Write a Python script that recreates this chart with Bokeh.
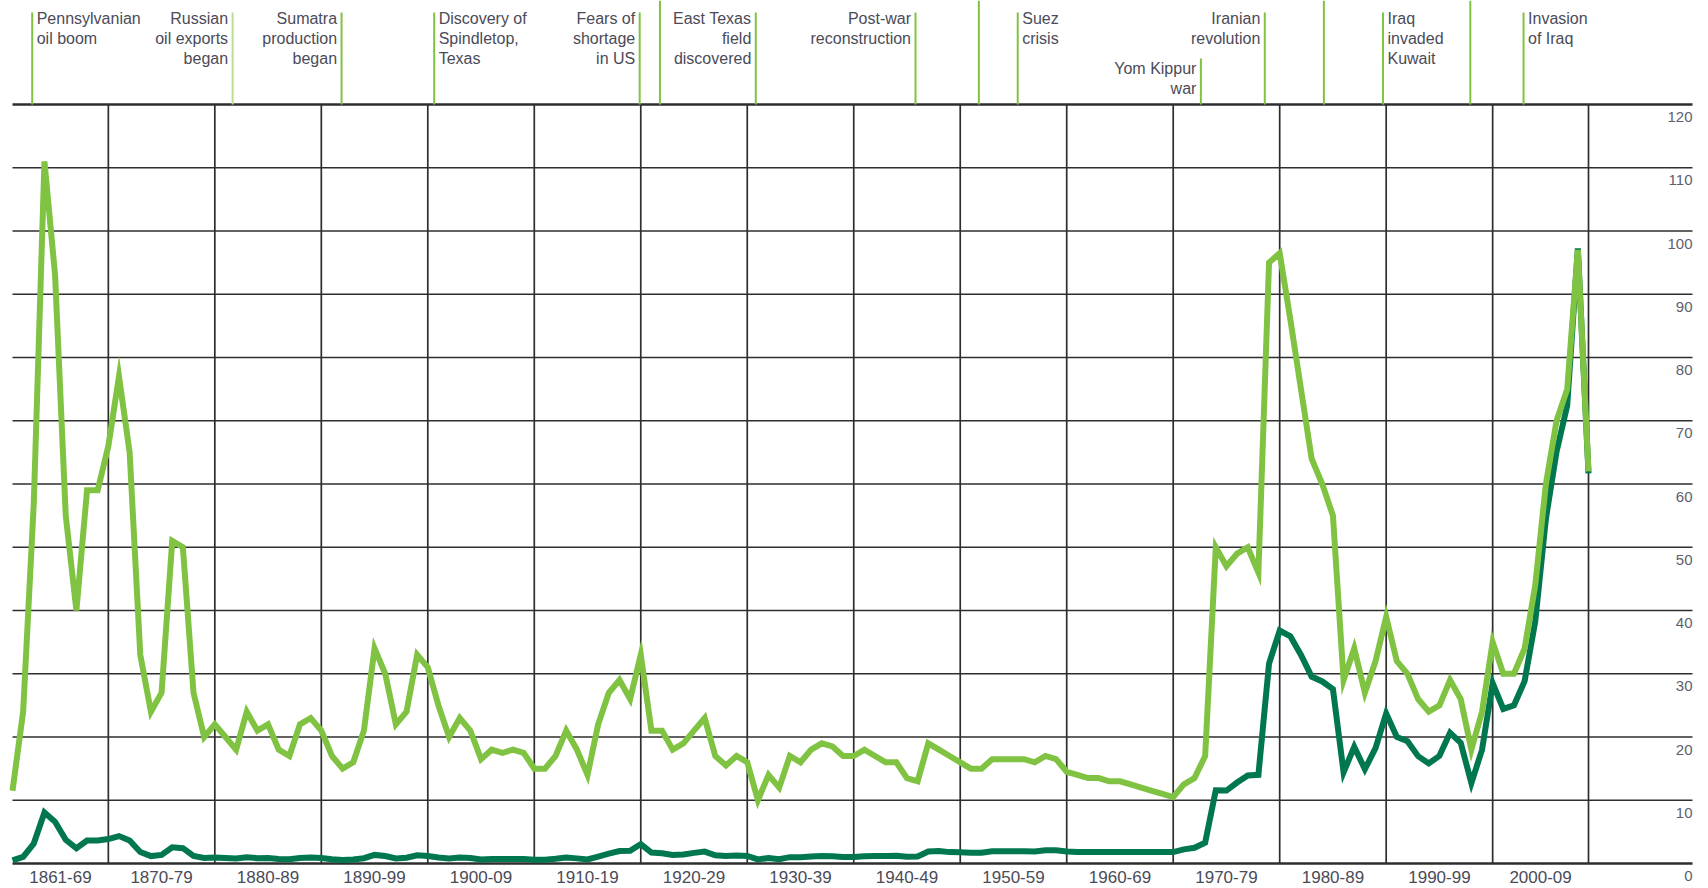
from bokeh.plotting import figure
from bokeh.models import Range1d
from bokeh.core.properties import value
from bokeh.embed import file_html
from bokeh.resources import INLINE

# ---------------- data ----------------
years = list(range(1861, 2010))

money_of_the_day = [
    0.49, 1.05, 3.15, 8.06, 6.59, 3.74, 2.41, 3.63, 3.64,
    3.86, 4.34, 3.64, 1.83, 1.17, 1.35, 2.56, 2.42, 1.19, 0.86,
    0.95, 0.86, 0.78, 1.00, 0.84, 0.88, 0.71, 0.67, 0.88, 0.94,
    0.87, 0.67, 0.56, 0.64, 0.84, 1.36, 1.18, 0.79, 0.91, 1.29,
    1.19, 0.96, 0.80, 0.94, 0.86, 0.62, 0.73, 0.72, 0.72, 0.70,
    0.61, 0.61, 0.74, 0.95, 0.81, 0.64, 1.10, 1.56, 1.98, 2.01,
    3.07, 1.73, 1.61, 1.34, 1.43, 1.68, 1.88, 1.30, 1.17, 1.27,
    1.19, 0.65, 0.87, 0.67, 1.00, 0.97, 1.09, 1.18, 1.13, 1.02,
    1.02, 1.14, 1.19, 1.20, 1.21, 1.05, 1.12, 1.90, 1.99, 1.80,
    1.78, 1.71, 1.71, 1.93, 1.93, 1.93, 1.93, 1.90, 2.08, 2.08,
    1.90, 1.80, 1.80, 1.80, 1.80, 1.80, 1.80, 1.80, 1.80, 1.80,
    1.80, 2.24, 2.48, 3.29, 11.58, 11.53, 12.80, 13.92, 14.02, 31.61,
    36.83, 35.93, 32.97, 29.55, 28.78, 27.56, 14.43, 18.44, 14.92, 18.23,
    23.73, 20.00, 19.32, 16.97, 15.82, 17.02, 20.67, 19.09, 12.72, 17.97,
    28.50, 24.44, 25.02, 28.83, 38.27, 54.52, 65.14, 72.39, 97.26, 61.67,
]

real_terms = [
    11.5, 24, 57, 111, 93, 55, 40, 59, 59,
    66, 77, 65, 33, 24, 27, 51, 50, 27, 20,
    22, 20, 18, 24, 21, 22, 18, 17, 22, 23,
    21, 17, 15, 16, 21, 34, 30, 22, 24, 33,
    31, 25, 20, 23, 21, 16.5, 18, 17.5, 18, 17.5,
    15, 15, 17, 21, 18, 14, 22, 27, 29, 26,
    33, 21, 21, 18, 19, 21, 23, 17, 15.5, 17,
    16, 10, 14, 12, 17, 16, 18, 19, 18.5, 17,
    17, 18, 17, 16, 16, 13.5, 13, 19, 18, 17,
    16, 15, 15, 16.5, 16.5, 16.5, 16.5, 16, 17, 16.5,
    14.5, 14, 13.5, 13.5, 13, 13, 12.5, 12, 11.5, 11,
    10.5, 12.5, 13.5, 17, 50, 47, 49, 50, 46, 95,
    96.5, 86, 75, 64, 60, 55, 29, 34, 27, 32,
    39, 32, 30, 26, 24, 25, 29, 26, 18, 24,
    35, 30, 30, 34, 44, 60, 70, 75, 97, 62,
]

decade_labels = ["1861-69", "1870-79", "1880-89", "1890-99", "1900-09",
                 "1910-19", "1920-29", "1930-39", "1940-49", "1950-59",
                 "1960-69", "1970-79", "1980-89", "1990-99", "2000-09"]
decade_starts = [1861, 1870, 1880, 1890, 1900, 1910, 1920, 1930, 1940,
                 1950, 1960, 1970, 1980, 1990, 2000]
decade_ends = decade_starts[1:] + [2009]

y_ticks = [0, 10, 20, 30, 40, 50, 60, 70, 80, 90, 100, 110, 120]

event_years = [1862.85, 1881.67, 1891.9, 1900.6, 1919.9, 1921.8, 1930.8,
               1945.8, 1951.75, 1955.4, 1972.6, 1978.6, 1984.15, 1989.7,
               1997.9, 2002.9]
event_labels = ["Pennsylvanian\noil boom", "Russian\noil exports\nbegan",
                "Sumatra\nproduction\nbegan", "Discovery of\nSpindletop,\nTexas",
                "Fears of\nshortage\nin US", "", "East Texas\nfield\ndiscovered",
                "Post-war\nreconstruction", "", "Suez\ncrisis",
                "Yom Kippur\nwar", "Iranian\nrevolution", "", "Iraq\ninvaded\nKuwait",
                "", "Invasion\nof Iraq"]
# which side of its line each label sits on
event_side = ["right", "left", "left", "right", "left", "", "left", "left", "",
              "right", "left", "left", "", "right", "", "right"]

# ---------------- layout (page pixels) ----------------
W, H = 1708, 888
ORIGIN = 0
X1861_PX, X2009_PX = 12.0, 1588.0
Y0_PX, Y120_PX = 863.0, 104.0
sx = (X2009_PX - X1861_PX) / (2009 - 1861)
sy = (Y0_PX - Y120_PX) / 120.0


def xd(px):
    return 1861 + (px - X1861_PX) / sx


def yd(py):
    return (Y0_PX - py) / sy


x_lo, x_hi = xd(ORIGIN), xd(ORIGIN + W)
y_lo, y_hi = yd(ORIGIN + H), yd(ORIGIN)

LIGHT = "#80c342"
DARK = "#00774f"
GRID = "#2e2e2e"
TXT = "#4b4b58"
SANS = value("Liberation Sans")

p = figure(width=W, height=H, x_range=Range1d(x_lo, x_hi), y_range=Range1d(y_lo, y_hi),
           output_backend="svg", toolbar_location=None, min_border=0,
           x_axis_location=None, y_axis_location=None, outline_line_color=None,
           background_fill_color="white", border_fill_color="white")
p.grid.visible = False

# horizontal grid lines (extend into right label area)
gx0, gx1 = xd(12), xd(1692)
inner = [t for t in y_ticks if t not in (0, 120)]
p.segment(x0=[gx0] * len(inner), y0=inner, x1=[gx1] * len(inner), y1=inner,
          line_color=GRID, line_width=1.7)
p.segment(x0=[gx0, gx0], y0=[0, 120], x1=[gx1, gx1], y1=[0, 120],
          line_color=GRID, line_width=2.4)

# vertical decade lines
vx = decade_starts[1:] + [2009]
p.segment(x0=vx, y0=[0] * len(vx), x1=vx, y1=[120] * len(vx),
          line_color=GRID, line_width=1.7)

# right-hand value labels
p.text(x=[xd(1692)] * len(y_ticks), y=[t - 12.5 / sy for t in y_ticks],
       text=[str(t) for t in y_ticks], text_align="right", text_baseline="middle",
       text_font=SANS, text_font_size="15px", text_color="#5e5e6e")

# decade labels
mids = [(a + b) / 2 for a, b in zip(decade_starts, decade_ends)]
p.text(x=mids, y=[yd(876)] * len(mids), text=decade_labels, text_align="center",
       text_baseline="middle", text_font=SANS, text_font_size="17px", text_color=TXT)

# series lines
p.line(years, money_of_the_day, line_color=DARK, line_width=6, line_join="miter")
p.line(years, real_terms, line_color=LIGHT, line_width=6, line_join="miter")

# event lines & labels
gap = 4.5 / sx
for yr, lab, side in zip(event_years, event_labels, event_side):
    if lab == "":
        top = y_hi
    elif lab.startswith("Yom"):
        top = yd(58)
    else:
        top = yd(12)
    col = "#b9de98" if lab.startswith("Russian") else LIGHT
    p.segment(x0=[yr], y0=[120], x1=[yr], y1=[top], line_color=col, line_width=2)
    if lab:
        rows = lab.split("\n")
        first = 67.5 if lab.startswith("Yom") else 18.0
        xs = yr - gap if side == "left" else yr + gap
        align = "right" if side == "left" else "left"
        p.text(x=[xs] * len(rows), y=[yd(first + 20 * i) for i in range(len(rows))],
               text=rows, text_align=align, text_baseline="middle",
               text_font=SANS, text_font_size="16px", text_color=TXT)

open("out.html", "w").write(file_html(p, INLINE))
